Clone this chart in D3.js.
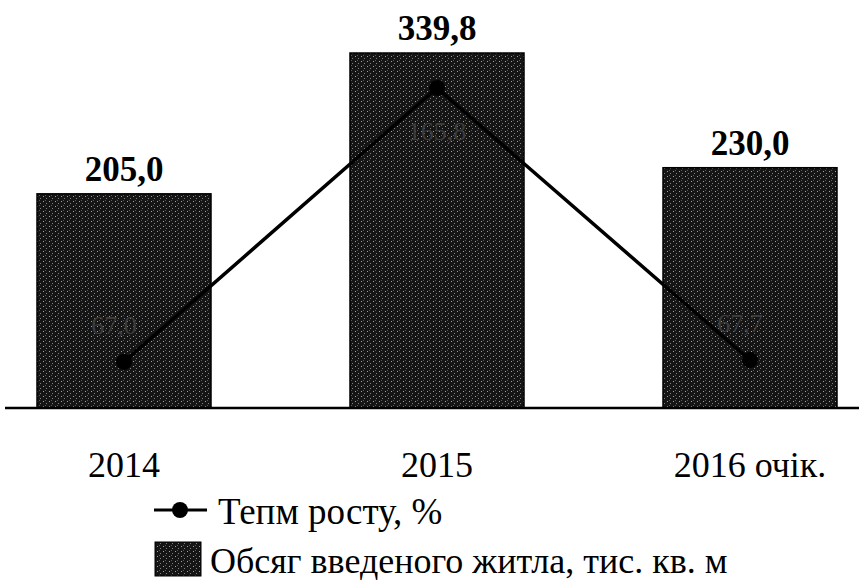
<!DOCTYPE html>
<html>
<head>
<meta charset="utf-8">
<script src="https://cdn.jsdelivr.net/npm/d3@7"></script>
<style>
  body { margin: 0; background: #fff; }
  text { font-family: "Liberation Serif", "DejaVu Serif", serif; }
</style>
</head>
<body>
<div id="chart"></div>
<script>
var categories = ["2014", "2015", "2016 очік."];
var volume = [205.0, 339.8, 230.0];
var growth = [67.0, 165.8, 67.7];
var volumeLabels = ["205,0", "339,8", "230,0"];
var growthLabels = ["67,0", "165,8", "67,7"];
var legendNames = ["Тепм росту, %", "Обсяг введеного житла, тис. кв. м"];

var width = 859, height = 582;
var baseY = 408;

var svg = d3.select("#chart").append("svg")
	.attr("width", width)
	.attr("height", height);

// stippled bar texture
var pat = svg.append("defs").append("pattern")
	.attr("id", "stipple")
	.attr("patternUnits", "userSpaceOnUse")
	.attr("width", 6)
	.attr("height", 5);
pat.append("rect").attr("width", 6).attr("height", 5).attr("fill", "#151515");
pat.append("rect").attr("x", 1).attr("y", 1).attr("width", 1).attr("height", 1).attr("fill", "#a0a0a0");
pat.append("rect").attr("x", 4).attr("y", 3).attr("width", 1).attr("height", 1).attr("fill", "#808080");
pat.append("rect").attr("x", 3).attr("y", 0).attr("width", 1).attr("height", 1).attr("fill", "#5a5a5a");

var x = d3.scalePoint()
	.domain(categories)
	.range([124, 750]);

var bw = 174;

var y = d3.scaleLinear()
	.domain([0, 339.8])
	.range([baseY, 53]);

var y2 = d3.scaleLinear()
	.domain([67.7, 165.8])
	.range([360, 88]);

var data = categories.map(function(c, i) {
	return {name: c, vol: volume[i], gr: growth[i], vl: volumeLabels[i], gl: growthLabels[i]};
});

svg.selectAll(".bar")
	.data(data)
	.enter().append("rect")
	.attr("class", "bar")
	.attr("x", function(d) { return x(d.name) - bw / 2; })
	.attr("width", bw)
	.attr("y", function(d) { return y(d.vol); })
	.attr("height", function(d) { return baseY - y(d.vol); })
	.attr("fill", "url(#stipple)")
	.attr("stroke", "#000")
	.attr("stroke-width", 1.5);

svg.selectAll(".vlabel")
	.data(data)
	.enter().append("text")
	.attr("class", "vlabel")
	.attr("x", function(d) { return x(d.name); })
	.attr("y", function(d) { return y(d.vol) - 13; })
	.attr("text-anchor", "middle")
	.attr("font-size", 35)
	.attr("font-weight", "bold")
	.text(function(d) { return d.vl; });

// axis line
svg.append("line")
	.attr("x1", 5).attr("x2", width)
	.attr("y1", baseY).attr("y2", baseY)
	.attr("stroke", "#000")
	.attr("stroke-width", 2.5);

svg.selectAll(".xlabel")
	.data(data)
	.enter().append("text")
	.attr("class", "xlabel")
	.attr("x", function(d) { return x(d.name); })
	.attr("y", 477)
	.attr("text-anchor", "middle")
	.attr("font-size", 36)
	.text(function(d) { return d.name; });

// growth line
var line = d3.line()
	.x(function(d) { return x(d.name); })
	.y(function(d) { return y2(d.gr); });

svg.append("path")
	.datum(data)
	.attr("d", line)
	.attr("fill", "none")
	.attr("stroke", "#000")
	.attr("stroke-width", 3.5);

svg.selectAll(".dot")
	.data(data)
	.enter().append("circle")
	.attr("class", "dot")
	.attr("cx", function(d) { return x(d.name); })
	.attr("cy", function(d) { return y2(d.gr); })
	.attr("r", 8)
	.attr("fill", "#000");

// faint growth labels (barely visible on the dark bars)
svg.selectAll(".glabel")
	.data(data)
	.enter().append("text")
	.attr("class", "glabel")
	.attr("x", function(d, i) { return x(d.name) + (i == 1 ? 0 : -10); })
	.attr("y", function(d, i) { return i == 1 ? y2(d.gr) + 52 : y2(d.gr) - 28; })
	.attr("text-anchor", "middle")
	.attr("font-size", 26)
	.attr("fill", "#3c3c3c")
	.text(function(d) { return d.gl; });

// legend
var lg = svg.append("g");
lg.append("line")
	.attr("x1", 154).attr("x2", 207)
	.attr("y1", 510).attr("y2", 510)
	.attr("stroke", "#000").attr("stroke-width", 3);
lg.append("circle")
	.attr("cx", 180).attr("cy", 510).attr("r", 8).attr("fill", "#000");
lg.append("text")
	.attr("x", 218).attr("y", 524)
	.attr("font-size", 37)
	.text(legendNames[0]);
lg.append("rect")
	.attr("x", 155).attr("y", 542)
	.attr("width", 46).attr("height", 34)
	.attr("fill", "url(#stipple)")
	.attr("stroke", "#000").attr("stroke-width", 1);
lg.append("text")
	.attr("x", 210).attr("y", 573)
	.attr("font-size", 36)
	.text(legendNames[1]);
</script>
</body>
</html>
